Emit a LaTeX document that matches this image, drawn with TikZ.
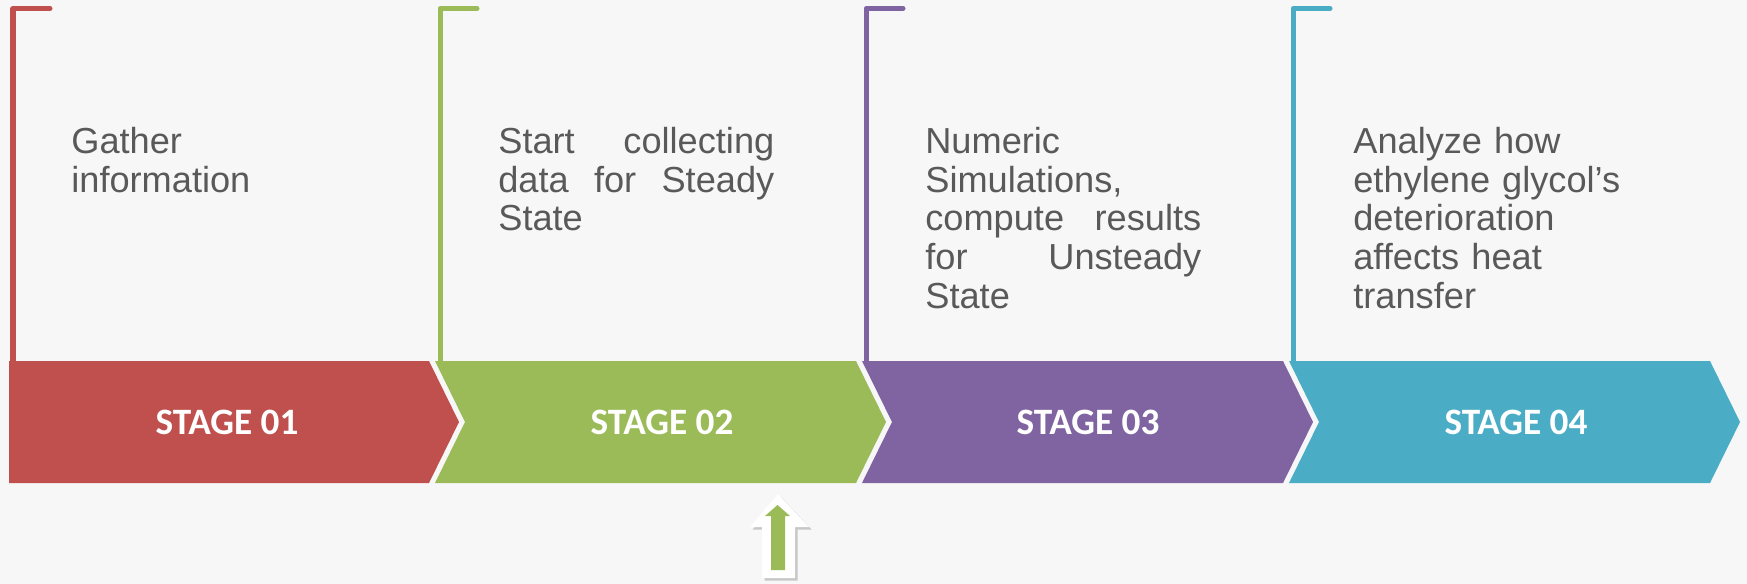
\documentclass[tikz,border=0pt]{standalone}
\usepackage{fontspec}
\setmainfont{Liberation Sans}
\newfontfamily\stagefont{Carlito}
\usetikzlibrary{shadows}
\definecolor{stagered}{HTML}{C0504D}
\definecolor{stagegreen}{HTML}{9BBB59}
\definecolor{stagepurple}{HTML}{8064A2}
\definecolor{stageblue}{HTML}{4BACC6}
\definecolor{pagegray}{HTML}{F7F7F7}
\definecolor{textgray}{HTML}{595959}
\def\stagebracket[#1](#2){\draw[#1, line width=2.85pt, line cap=round, line join=round] (#2+37, 8.5) -- (#2, 8.5) -- (#2, 361);}
\def\fullline#1{\leavevmode\hbox to 5.52cm{#1}}

\begin{document}
\begin{tikzpicture}[x=0.02cm, y=-0.02cm,
	stagelabel/.style={text=white, inner sep=0pt, font=\stagefont\bfseries\fontsize{21.2}{25}\selectfont},
	stagetext/.style={anchor=north west, inner sep=0pt, text width=5.52cm, align=left, text=textgray, font=\fontsize{20.6}{22}\selectfont}]
			%%%%% START %%%%%
			
			\useasboundingbox (0, 0) rectangle (1747, 584);
			\fill[pagegray] (0, 0) rectangle (1747, 584);
			
			\stagebracket[stagered](13);
			\stagebracket[stagegreen](440);
			\stagebracket[stagepurple](866);
			\stagebracket[stageblue](1293);
			
			\fill[stagered] (9, 361) -- (429, 361) -- (459, 422) -- (429, 483) -- (9, 483) -- cycle;
			\fill[stagegreen] (435, 361) -- (856, 361) -- (886, 422) -- (856, 483) -- (435, 483) -- (465, 422) -- cycle;
			\fill[stagepurple] (862, 361) -- (1283, 361) -- (1313, 422) -- (1283, 483) -- (862, 483) -- (892, 422) -- cycle;
			\fill[stageblue] (1289, 361) -- (1710, 361) -- (1740, 422) -- (1710, 483) -- (1289, 483) -- (1319, 422) -- cycle;
			
			\node[stagelabel] (stage1) at (227, 422) {STAGE 01};
			\node[stagelabel] (stage2) at (662, 422) {STAGE 02};
			\node[stagelabel] (stage3) at (1088, 422) {STAGE 03};
			\node[stagelabel] (stage4) at (1516, 422) {STAGE 04};
			
			\node[stagetext] (gather) at (71, 127) {Gather\\information};
			\node[stagetext] (collect) at (498, 127) {\fullline{Start\hfill collecting}\\\fullline{data\hfill for\hfill Steady}\\State};
			\node[stagetext] (simulate) at (925, 127) {Numeric\\Simulations,\\\fullline{compute\hfill results}\\\fullline{for\hfill Unsteady}\\State};
			\node[stagetext] (analyze) at (1353, 127) {Analyze how\\ethylene glycol’s\\deterioration\\affects heat\\transfer};
			
			\fill[white, drop shadow={shadow xshift=1.5pt, shadow yshift=-1.5pt, opacity=0.4}] (778, 494) -- (809, 527) -- (795, 527) -- (795, 578) -- (762, 578) -- (762, 527) -- (750, 527) -- cycle;
			\fill[stagegreen] (777.5, 505) -- (790, 516) -- (785, 516) -- (785, 570) -- (771, 570) -- (771, 516) -- (765, 516) -- cycle;
			
			%%%%% END %%%%%
\end{tikzpicture}
\end{document}
